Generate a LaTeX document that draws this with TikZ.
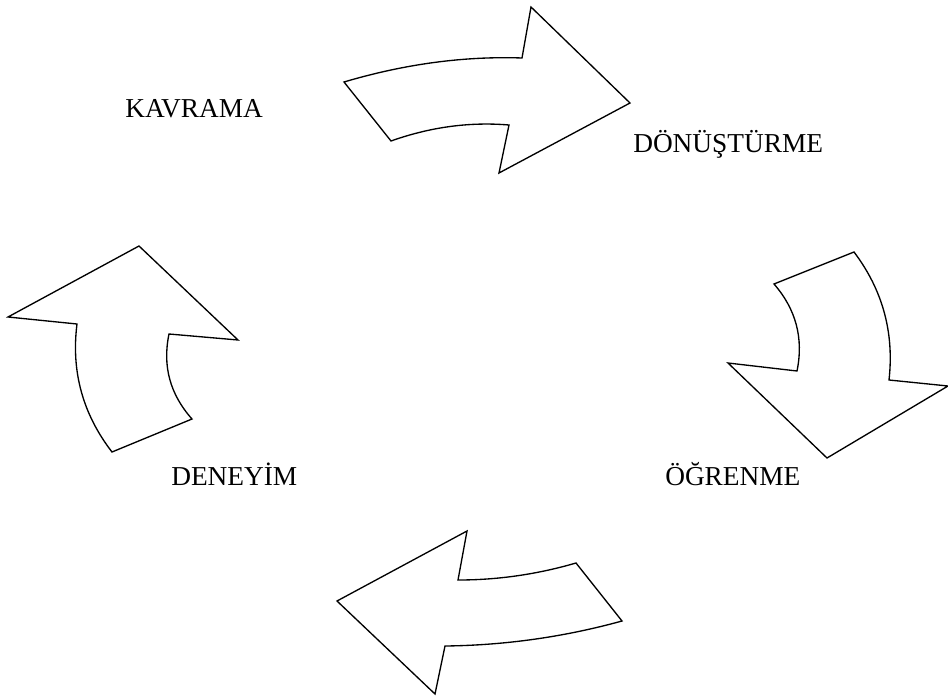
\documentclass[tikz,border=0pt]{standalone}
\usepackage{fontspec}
\setmainfont{Liberation Serif}
\begin{document}
\begin{tikzpicture}[x=0.75pt,y=-0.75pt,
  bigarrow/.style={draw=black,line width=1pt,line join=miter,fill=white},
  stage/.style={anchor=base west,inner sep=0pt,font=\fontsize{20.5pt}{24pt}\selectfont}]
\useasboundingbox (0,0) rectangle (948,695);

% top arrow: pointing right
\draw[bigarrow] (344,82) .. controls (404.7,64) and (464,56) .. (522,58)
  -- (531,7) -- (630,103) -- (499,173) -- (509,125)
  .. controls (469.7,121.7) and (430.3,127) .. (391,141) -- cycle;

% right arrow: pointing down
\draw[bigarrow] (774,284) -- (854,252)
  .. controls (882.7,290) and (894.3,332.7) .. (889,380)
  -- (948,386) -- (827,458) -- (728,363) -- (797,371)
  .. controls (803.7,338.3) and (796,309.3) .. (774,284) -- cycle;

% bottom arrow: pointing left
\draw[bigarrow] (622,621) -- (576,563)
  .. controls (537.3,574.3) and (498,580) .. (458,580)
  -- (467,531) -- (337,601) -- (435,694) -- (445,646)
  .. controls (505,645.3) and (564,637) .. (622,621) -- cycle;

% left arrow: pointing up
\draw[bigarrow] (112,452) -- (192,419)
  .. controls (170,394.3) and (162.3,366) .. (169,334)
  -- (238,340) -- (139,246) -- (8,317) -- (77,324)
  .. controls (71,371.3) and (82.7,414) .. (112,452) -- cycle;

\node[stage] (kavrama) at (125,118) {KAVRAMA};
\node[stage] (donusturme) at (633,153) {DÖNÜŞTÜRME};
\node[stage] (deneyim) at (171,485) {DENEYİM};
\node[stage] (ogrenme) at (665,485) {ÖĞRENME};
\end{tikzpicture}
\end{document}
